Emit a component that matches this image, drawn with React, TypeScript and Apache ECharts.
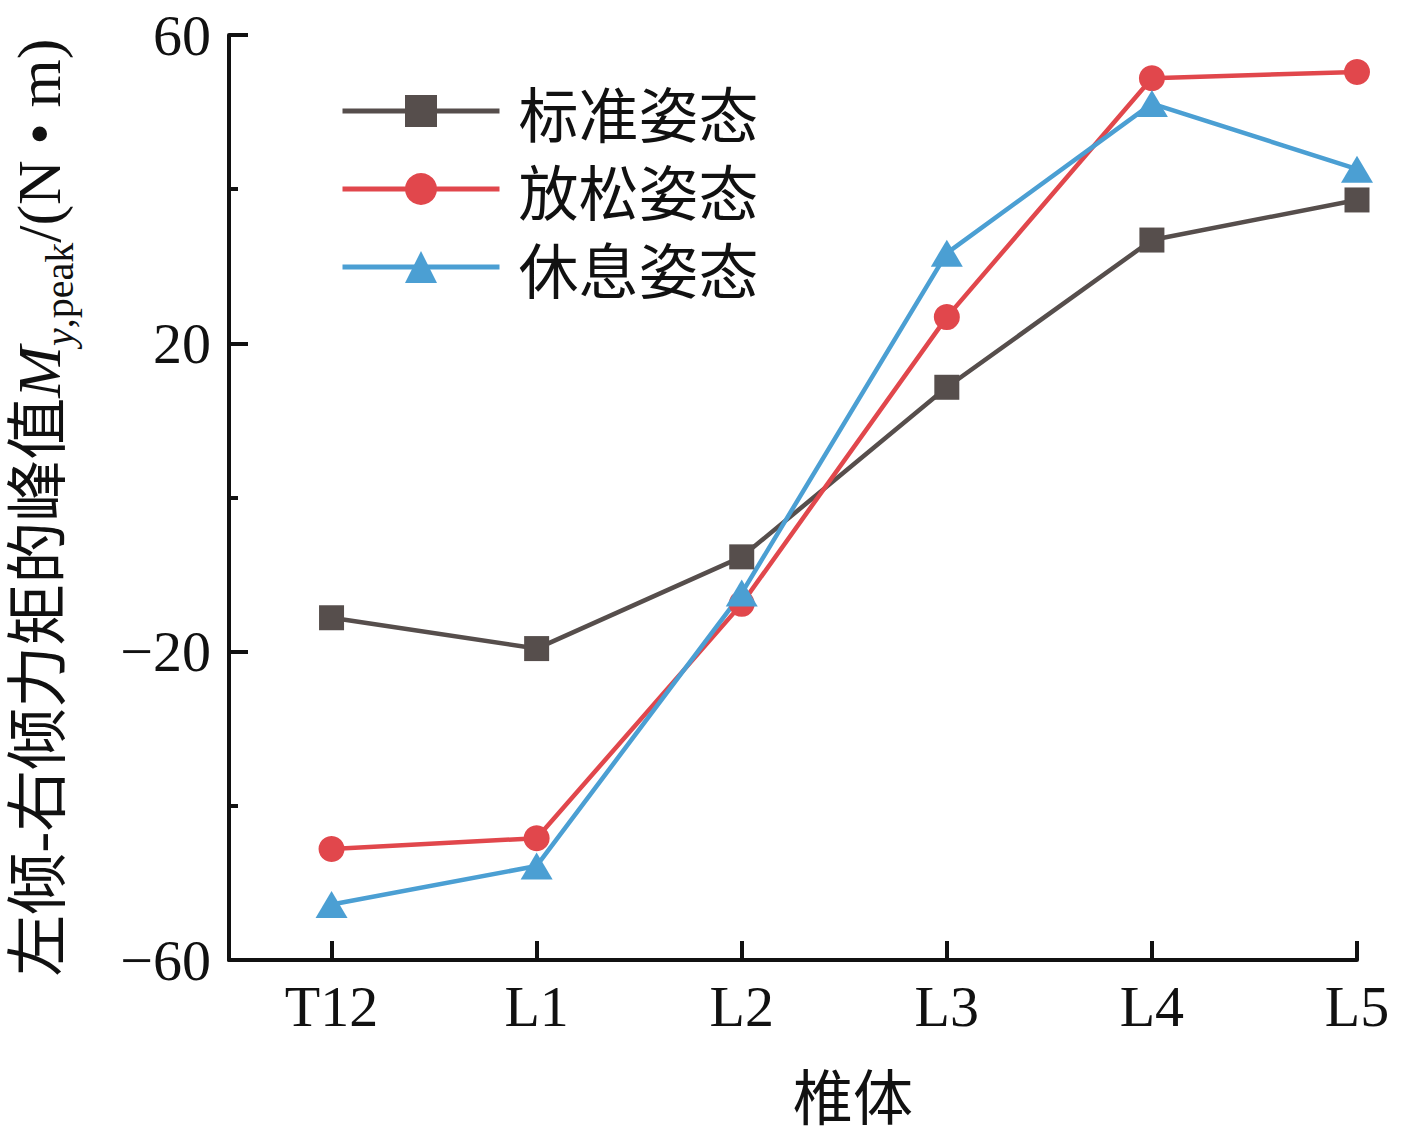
import React, { useEffect, useRef } from "react";
import * as echarts from "echarts";

const categories = ["T12", "L1", "L2", "L3", "L4", "L5"];
const seriesNames = ["标准姿态", "放松姿态", "休息姿态"];
const standardValues = [-15.6, -19.6, -7.7, 14.3, 33.4, 38.6];
const relaxedValues = [-45.6, -44.2, -13.8, 23.4, 54.4, 55.2];
const restValues = [-52.8, -47.8, -12.4, 31.7, 51.1, 42.6];
const yMajorTicks = [-60, -20, 20, 60];

const SERIF = "'Liberation Serif', 'Times New Roman', 'Noto Sans CJK SC', serif";
const CJK = "'Noto Sans CJK SC', sans-serif";
const FS = 58;
const TFS = 62;

const colors = ["#564e4c", "#e1474c", "#4b9fd3"];

export default function App() {
  const ref = useRef<HTMLDivElement>(null);

  useEffect(() => {
    if (!ref.current) return;
    const chart = echarts.init(ref.current, null, { renderer: "svg" });
    const toPairs = (arr: number[]) => arr.map((v, i) => [i, v]);
    const fmtNum = (v: number) => (v < 0 ? "\u2212" + Math.abs(v) : String(v));

    const option: any = {
      animation: false,
      backgroundColor: "#ffffff",
      grid: { left: 226, right: 48, top: 35, bottom: 179, containLabel: false },
      legend: {
        orient: "vertical",
        left: 340,
        top: 81,
        padding: 0,
        itemWidth: 157,
        itemHeight: 40,
        itemGap: 18,
        data: seriesNames,
        lineStyle: { width: 5 },
        textStyle: {
          fontFamily: CJK,
          fontSize: 60,
          color: "#111",
          lineHeight: 60,
          padding: [0, 0, 0, 14],
        },
      },
      xAxis: {
        type: "value",
        min: -0.5,
        max: 5,
        minInterval: 1,
        maxInterval: 1,
        splitLine: { show: false },
        axisLine: { show: true, onZero: false, lineStyle: { color: "#111", width: 4 } },
        axisTick: { show: true, inside: true, length: 19, lineStyle: { color: "#111", width: 4 } },
        axisLabel: {
          margin: 17,
          fontFamily: SERIF,
          fontSize: FS,
          color: "#111",
          formatter: (v: number) =>
            Number.isInteger(v) && v >= 0 && v < categories.length ? categories[v] : "",
        },
      },
      yAxis: [
        {
          type: "value",
          min: -60,
          max: 60,
          interval: 20,
          position: "left",
          splitLine: { show: false },
          axisLine: { show: true, onZero: false, lineStyle: { color: "#111", width: 4 } },
          axisTick: { show: true, inside: true, length: 9, lineStyle: { color: "#111", width: 4 } },
          axisLabel: { show: false },
          name: "{c|左倾-右倾力矩的峰值}{i|M}{s|y}{p|,peak}{c|/(N • m)}",
          nameLocation: "middle",
          nameRotate: 90,
          nameGap: 150,
          nameTextStyle: {
            padding: [0, 20, 0, 0],
            rich: {
              c: { fontFamily: SERIF, fontSize: TFS, color: "#111", lineHeight: 80 },
              i: { fontFamily: SERIF, fontSize: TFS, fontStyle: "italic", color: "#111", lineHeight: 80 },
              s: { fontFamily: SERIF, fontSize: 40, fontStyle: "italic", color: "#111", verticalAlign: "bottom" },
              p: { fontFamily: SERIF, fontSize: 40, color: "#111", verticalAlign: "bottom" },
            },
          },
        },
        {
          type: "value",
          min: 0,
          max: 120,
          interval: 40,
          position: "left",
          offset: 0,
          splitLine: { show: false },
          axisLine: { show: false, onZero: false },
          axisTick: { show: true, inside: true, length: 19, lineStyle: { color: "#111", width: 4 } },
          axisLabel: {
            margin: 18,
            fontFamily: SERIF,
            fontSize: FS,
            color: "#111",
            formatter: (v: number) => {
              const real = v + yMajorTicks[0];
              return yMajorTicks.includes(real) ? fmtNum(real) : "";
            },
          },
        },
      ],
      graphic: [
        {
          type: "text",
          x: 853,
          y: 1093,
          style: {
            text: "椎体",
            fontFamily: CJK,
            fontSize: 60,
            fill: "#111",
            align: "center",
            verticalAlign: "middle",
          },
        },
      ],
      series: [
        {
          name: seriesNames[0],
          type: "line",
          yAxisIndex: 0,
          data: toPairs(standardValues),
          symbol: "rect",
          symbolSize: 25,
          color: colors[0],
          lineStyle: { width: 4.5, color: colors[0] },
          itemStyle: { color: colors[0] },
        },
        {
          name: seriesNames[1],
          type: "line",
          yAxisIndex: 0,
          data: toPairs(relaxedValues),
          symbol: "circle",
          symbolSize: 26,
          color: colors[1],
          lineStyle: { width: 4.5, color: colors[1] },
          itemStyle: { color: colors[1] },
        },
        {
          name: seriesNames[2],
          type: "line",
          yAxisIndex: 0,
          data: toPairs(restValues),
          symbol: "triangle",
          symbolSize: [32, 27],
          color: colors[2],
          lineStyle: { width: 4.5, color: colors[2] },
          itemStyle: { color: colors[2] },
        },
      ],
    };
    chart.setOption(option);
    return () => chart.dispose();
  }, []);

  return (
    <div
      ref={ref}
      style={{ position: "absolute", left: 0, top: 0, width: 1405, height: 1139, background: "#fff" }}
    />
  );
}
